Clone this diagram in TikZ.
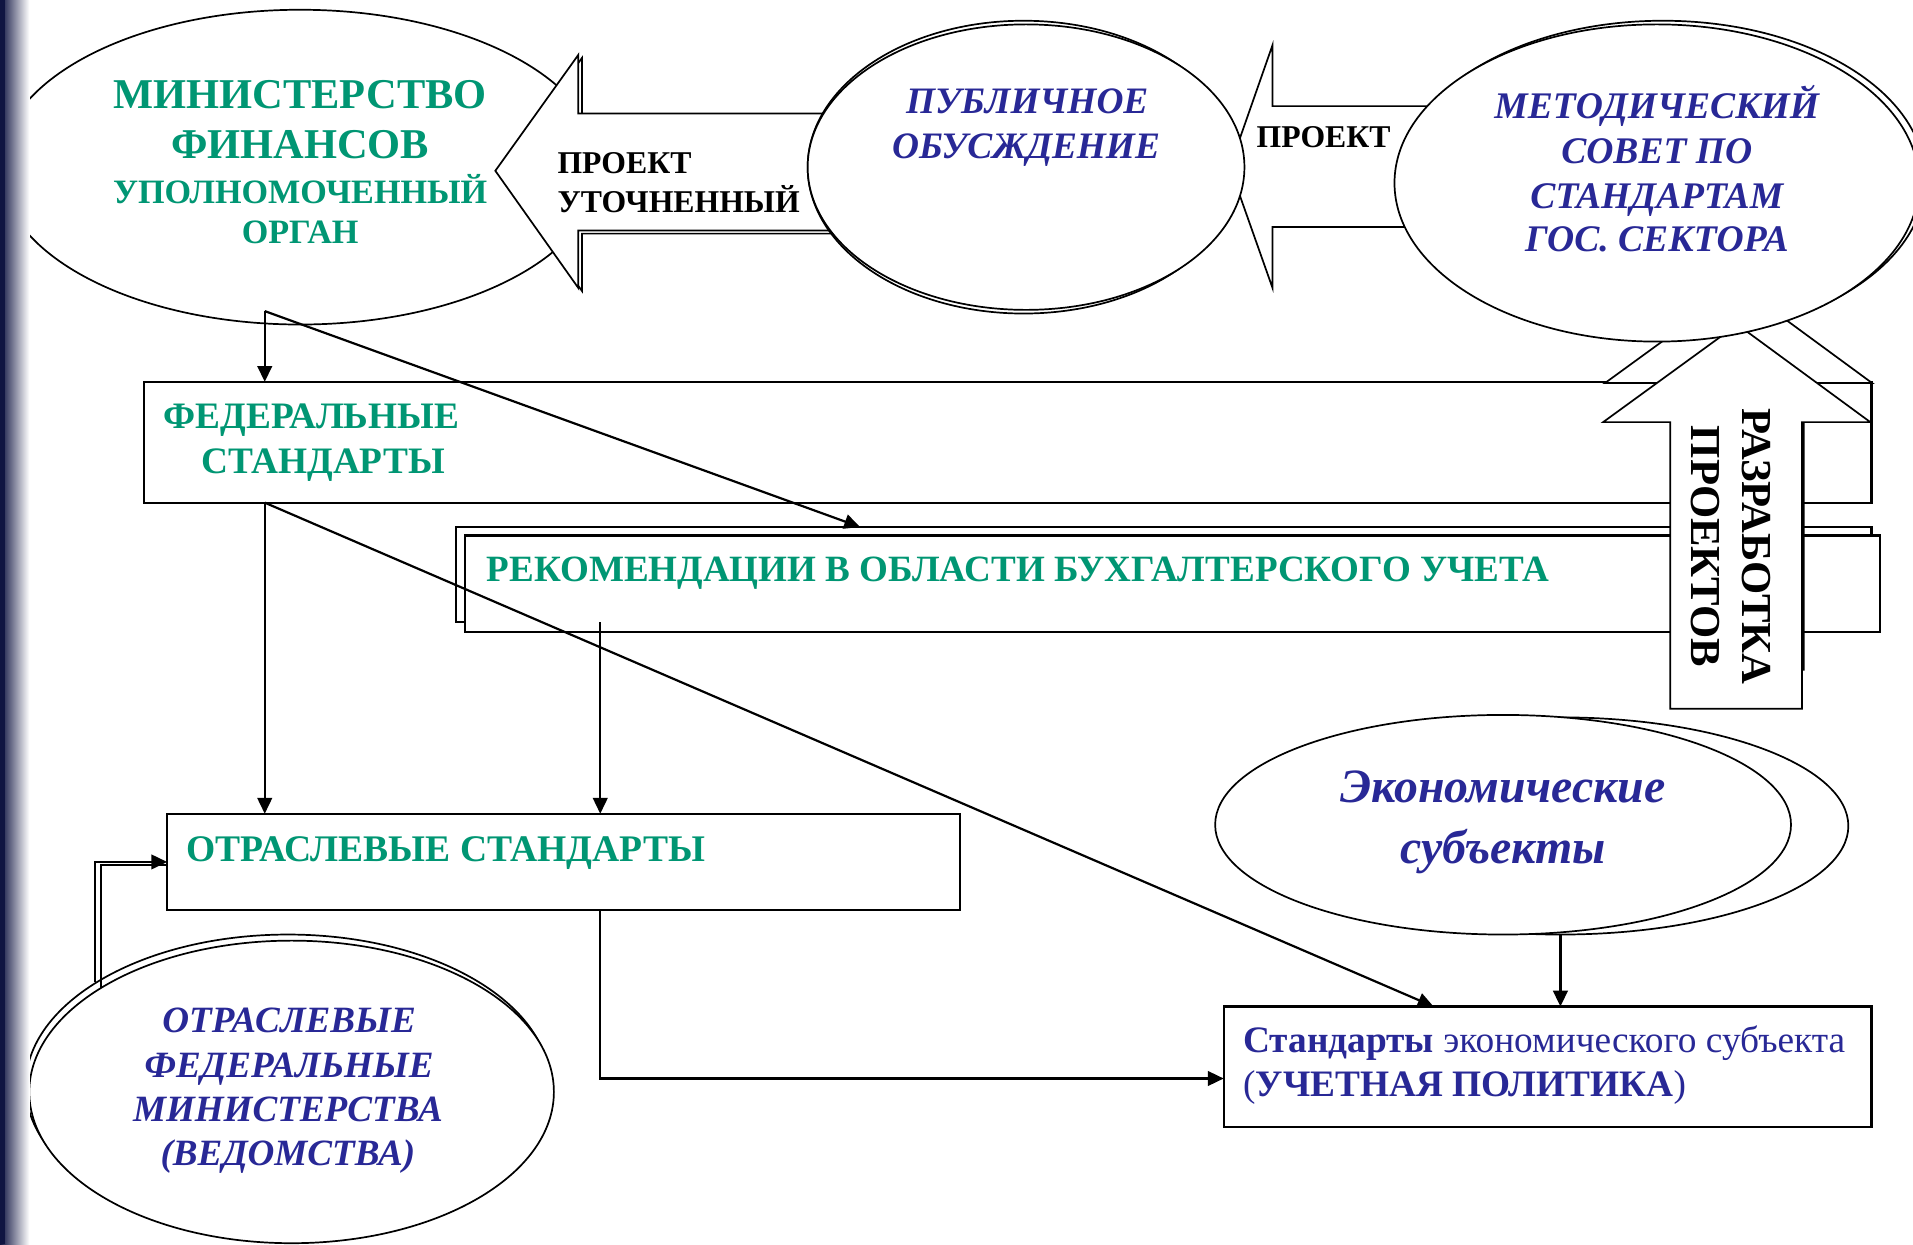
\documentclass[tikz,border=0pt]{standalone}
\usepackage{fontspec}
\setmainfont{Liberation Serif}
\usetikzlibrary{shapes.geometric,arrows.meta,calc}
\definecolor{grn}{RGB}{0,150,115}
\definecolor{blu}{RGB}{40,40,150}
\definecolor{navy}{RGB}{15,20,65}
\newcommand\fsz[1]{\fontsize{#1}{#1}\selectfont}
\begin{document}
\begin{tikzpicture}[x=0.5pt,y=-0.5pt,
  shp/.style={draw, line width=0.7pt, fill=white, line join=miter},
  bx/.style 2 args={draw, line width=0.9pt, fill=white, rectangle, inner sep=0pt, outer sep=0pt, anchor=north west, minimum width=#1*0.5pt, minimum height=#2*0.5pt},
  el/.style 2 args={draw, line width=0.7pt, fill=white, ellipse, inner sep=0pt, outer sep=0pt, minimum width=#1*0.5pt, minimum height=#2*0.5pt},
  conn/.style={line width=0.9pt, -{Triangle[length=6.5pt,width=6pt]}},
  plain/.style={line width=0.9pt},
  tx/.style={inner sep=0pt, outer sep=0pt, anchor=base},
  txw/.style={inner sep=0pt, outer sep=0pt, anchor=base west},
  gb/.style={text=grn, font=\bfseries\fsz{#1}},
  bb/.style={text=blu, font=\bfseries\itshape\fsz{#1}},
  kb/.style={text=black, font=\bfseries\fsz{#1}}
]
\useasboundingbox (0,0) rectangle (1568,1020);
\fill[white] (0,0) rectangle (1568,1020);

% Ministry ellipse
\node[el={492}{258}] (mf) at (246,137) {};

% arrow "проект уточненный"
\draw[shp] ([shift={(3,2.5)}]700,93) -- ++(-226,0) -- ++(0,-48) -- ++(-68,95) -- ++(68,96) -- ++(0,-47) -- ++(226,0) -- cycle;
\draw[shp] (700,93) -- (474,93) -- (474,45) -- (406,140) -- (474,236) -- (474,189) -- (700,189) -- cycle;

% arrow "проект"
\draw[shp] (1200,87) -- (1043,87) -- (1043,37) -- (1008,137) -- (1043,236) -- (1043,186) -- (1200,186) -- cycle;

% public discussion
\node[el={354}{240}] (pubs) at (839,137) {};
\node[el={358}{234}] (pub) at (841,137) {};

% boxes
\node[bx={1416}{99}] (fed) at (118,313) {};
\node[bx={1160}{78}] (recb) at (374,432) {};
\node[bx={1160}{79}] (rec) at (381,439) {};
\node[bx={650}{79}] (otr) at (137,667) {};
\node[bx={531}{99}] (std) at (1003,825) {};

% up arrow "разработка проектов"
\draw[shp] (1425.5,234) -- (1534.5,314) -- (1478.5,314) -- (1478.5,549) -- (1370.5,549) -- (1370.5,314) -- (1315.5,314) -- cycle;
\draw[shp] (1424,266) -- (1533,346) -- (1477,346) -- (1477,581) -- (1369,581) -- (1369,346) -- (1314,346) -- cycle;

% methodical council
\node[el={430}{260}] (mets) at (1363,147) {};
\node[el={430}{260}] (met) at (1358,150) {};

% branch ministries
\node[el={430}{248}] (ofms) at (236,890) {};
\node[el={430}{248}] (ofm) at (239,895) {};

% economic subjects
\node[el={472}{178}] (ecos) at (1279,677) {};
\node[el={472}{180}] (eco) at (1232,676) {};

% connectors
\coordinate (mfo) at (217,255);
\draw[conn] (mfo) -- (mfo |- fed.north);
\draw[conn] (mfo) -- ($(recb.north west)+(331,0)$);
\coordinate (fo) at (mfo |- fed.south);
\draw[conn] (fo) -- (fo |- otr.north);
\draw[conn] (fo) -- ($(std.north west)+(172,0)$);
\coordinate (rx) at ($(recb.south west)+(118,0)$);
\draw[conn] (rx) -- (rx |- otr.north);
\coordinate (ob) at ($(otr.south west)+(355,0)$);
\coordinate (sw) at ($(std.north west)+(0,59)$);
\draw[conn] (ob) |- (sw);
\draw[conn] (ecos.south) -- (ecos.south |- std.north);
\coordinate (of1) at (78,805);
\coordinate (of2) at (83,810);
\coordinate (ow2) at ($(otr.west)+(0,2.5)$);
\draw[plain] (of2) |- (ow2);
\draw[conn] (of1) |- (otr.west);

% texts
\node[tx, gb=17.4] (t1) at (246,89) {МИНИСТЕРСТВО};
\node[tx, gb=17.4] (t2) at (246,130) {ФИНАНСОВ};
\node[tx, gb=14] (t3) at (246,167) {УПОЛНОМОЧЕННЫЙ};
\node[tx, gb=14] (t4) at (246,200) {ОРГАН};

\node[txw, kb=13] (a1) at (457,142) {ПРОЕКТ};
\node[txw, kb=13] (a2) at (457,174) {УТОЧНЕННЫЙ};
\node[txw, kb=13] (a3) at (1030,121) {ПРОЕКТ};

\node[tx, bb=15.3] (p1) at (842,93) {ПУБЛИЧНОЕ};
\node[tx, bb=15.3] (p2) at (841,130) {ОБУСЖДЕНИЕ};

\node[tx, bb=15.4] (m1) at (1358,97) {МЕТОДИЧЕСКИЙ};
\node[tx, bb=15.4] (m2) at (1358,134) {СОВЕТ ПО};
\node[tx, bb=15.4] (m3) at (1358,171) {СТАНДАРТАМ};
\node[tx, bb=15.4] (m4) at (1358,206) {ГОС. СЕКТОРА};

\node[txw, gb=15.3] (f1) at (134,351) {ФЕДЕРАЛЬНЫЕ};
\node[txw, gb=15.3] (f2) at (165,388) {СТАНДАРТЫ};

\node[txw, gb=15.2] (r1) at (399,477) {РЕКОМЕНДАЦИИ В ОБЛАСТИ БУХГАЛТЕРСКОГО УЧЕТА};

\node[txw, gb=15.4] (o1) at (153,706) {ОТРАСЛЕВЫЕ СТАНДАРТЫ};

\node[tx, bb=15.2] (q1) at (237,846) {ОТРАСЛЕВЫЕ};
\node[tx, bb=15.2] (q2) at (237,883) {ФЕДЕРАЛЬНЫЕ};
\node[tx, bb=15.2] (q3) at (236,919) {МИНИСТЕРСТВА};
\node[tx, bb=15.2] (q4) at (236,955) {(ВЕДОМСТВА)};

\node[tx, bb=19.6] (e1) at (1232,658) {Экономические};
\node[tx, bb=19.6] (e2) at (1232,708) {субъекты};

\node[txw, text=blu, font=\fsz{15.3}] (s1) at (1019,863) {\textbf{Стандарты} экономического субъекта};
\node[txw, text=blu, font=\fsz{15.3}] (s2) at (1019,899) {(\textbf{УЧЕТНАЯ ПОЛИТИКА})};

\node[rotate=-90, align=center, inner sep=0pt, font=\bfseries\fontsize{17.5}{21}\selectfont] (rz) at (1419,448) {РАЗРАБОТКА\\ПРОЕКТОВ};

% left bar
\shade[left color=navy, right color=white] (0,0) rectangle (24,1020);
\fill[navy] (0,0) rectangle (4,1020);
\end{tikzpicture}
\end{document}
